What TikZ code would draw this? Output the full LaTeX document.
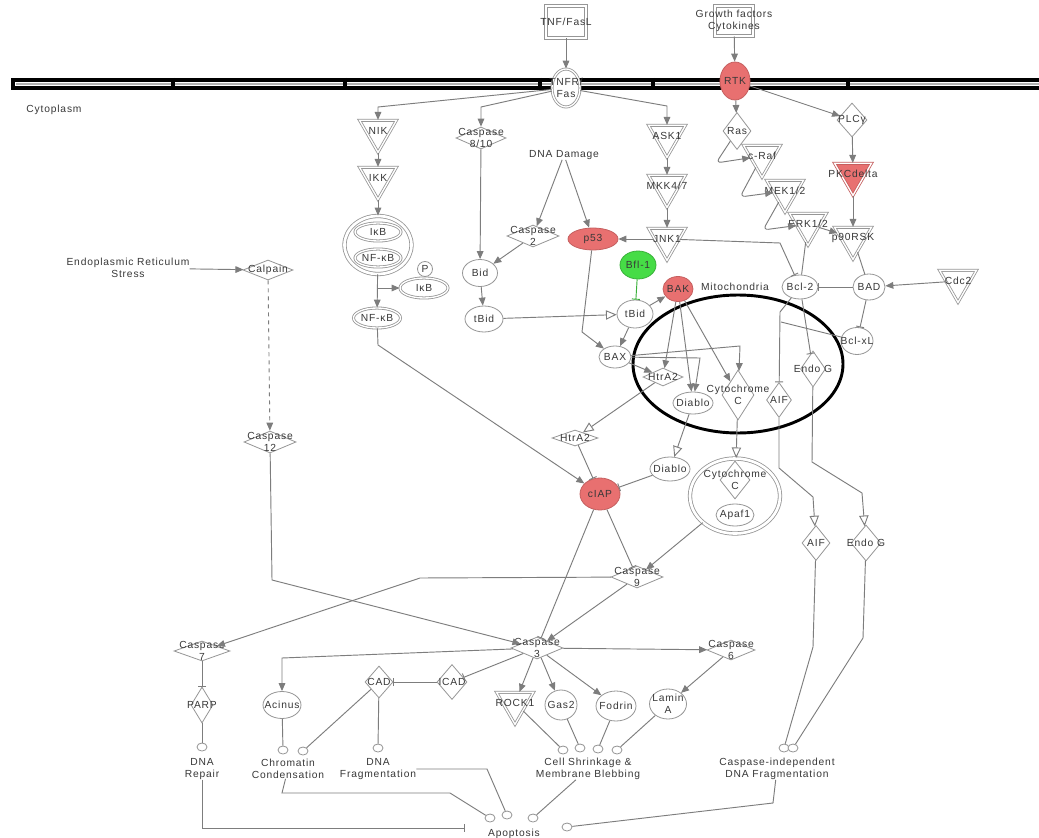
\documentclass[tikz,border=0pt]{standalone}
\usepackage{fontspec}
\setmainfont{Liberation Sans}[LetterSpace=8]
\usetikzlibrary{shapes.geometric,arrows.meta,calc}
\definecolor{ipared}{RGB}{232,112,112}
\definecolor{ipagrn}{RGB}{70,220,70}
\definecolor{edc}{RGB}{125,125,125}
\definecolor{ndc}{RGB}{150,150,150}
\begin{document}
\begin{tikzpicture}[x=0.75pt,y=-0.75pt,
  lbl/.style={font=\fontsize{7.7}{8.6}\selectfont, text=black!78, align=center, inner sep=0pt},
  tx/.style={label={[lbl]center:{#1}}},
  sz/.style 2 args={minimum width=#1*0.75pt, minimum height=#2*0.75pt},
  nd/.style={draw=ndc, fill=white, line width=0.6pt, inner sep=0pt},
  el/.style={nd, ellipse},
  dia/.style={nd, diamond},
  kin/.style={nd, regular polygon, regular polygon sides=3, shape border rotate=180, minimum size=32pt, double, double distance=1pt},
  bx/.style={nd, rectangle, double, double distance=1.2pt},
  port/.style={nd, ellipse, minimum width=7.5pt, minimum height=6pt},
  hot/.style={fill=ipared, draw=ipared!85!black},
  grn/.style={fill=ipagrn, draw=ipagrn!80!black},
  ed/.style={draw=edc, line width=0.7pt},
  ln/.style={ed},
  act/.style={ed, -{Triangle[length=6pt,width=5pt]}},
  opn/.style={ed, -{Triangle[open,length=8pt,width=7pt,fill=white]}},
  inh/.style={ed, -{Bar[width=6pt]}}
]
\useasboundingbox (0,0) rectangle (1039,838);
\fill[white] (0,0) rectangle (1039,838);
% membrane
\draw[line width=2.3pt] (13,80) rectangle (1060,88);
\draw[gray!60, line width=0.8pt] (16,84) -- (1060,84);
\foreach \xx in {173,345,540,653,848} \draw[line width=2.5pt] (\xx,78) -- (\xx,90);
\node[lbl] (cyto) at (54,110) {Cytoplasm};
% mitochondrion
\node[draw, ellipse, line width=2.2pt, minimum width=157.5pt, minimum height=103.5pt] (mitoel) at (738,364) {};
\node[lbl] (mitot) at (735,287) {Mitochondria};
% top
\node[bx, sz={40}{32}, tx={TNF/FasL}] (tnf) at (566,22) {};
\node[bx, sz={38}{30}, tx={Growth factors\\Cytokines}] (gf) at (734,21) {};
\node[el, double, double distance=1pt, sz={28}{38}, tx={TNFR/\\Fas}] (tnfr) at (566,88) {};
\node[el, hot, sz={30}{38}, tx=RTK] (rtk) at (735,81) {};
\node[kin, tx=NIK] (nik) at (378,131) {};
\node[kin, tx=IKK] (ikk) at (378,178) {};
\node[el, double, double distance=2pt, sz={67}{58}] (cplx) at (378,245) {};
\node[el, double, double distance=1pt, sz={46}{18}, tx={IκB}] (ikbin) at (378,232) {};
\node[el, double, double distance=1pt, sz={46}{18}, tx={NF-κB}] (nfkbin) at (378,258) {};
\node[el, sz={15}{15}, tx=P] (pP) at (425,269) {};
\node[el, double, double distance=1pt, sz={48}{20}, tx={IκB}] (ikbP) at (424,288) {};
\node[el, double, double distance=1pt, sz={47}{20}, tx={NF-κB}] (nfkb) at (377,318) {};
\node[dia, sz={50}{22}, tx={Caspase\\8/10}] (c810) at (481,138) {};
\node[lbl] (dnad) at (564,155) {DNA Damage};
\node[dia, sz={52}{22}, tx={Caspase\\2}] (c2) at (533,236) {};
\node[el, hot, sz={50}{22}, tx=p53] (p53) at (593,239) {};
\node[kin, tx=ASK1] (ask1) at (667,136) {};
\node[kin, tx={MKK4/7}] (mkk) at (667,186) {};
\node[kin, tx=JNK1] (jnk) at (667,239) {};
\node[dia, sz={28}{37}, tx=Ras] (ras) at (737,131) {};
\node[kin, tx={c-Raf}] (craf) at (762,156) {};
\node[kin, tx={MEK1/2}] (mek) at (785,191) {};
\node[kin, tx={ERK1/2}] (erk) at (808,224) {};
\node[dia, sz={30}{34}, tx={PLCγ}] (plc) at (852,120) {};
\node[kin, hot, tx={PKCdelta}] (pkc) at (853,174) {};
\node[kin, tx={p90RSK}] (rsk) at (853,238) {};
\node[el, sz={35}{27}, tx=Bid] (bid) at (480,273) {};
\node[el, sz={38}{26}, tx=tBid] (tbid) at (484,319) {};
\node[lbl] (ers) at (128,268) {Endoplasmic Reticulum\\Stress};
\node[dia, sz={50}{20}, tx=Calpain] (calp) at (268,270) {};
\node[dia, sz={52}{22}, tx={Caspase\\12}] (c12) at (270,442) {};
\node[el, grn, sz={36}{28}, tx={Bfl-1}] (bfl) at (638,265) {};
\node[el, hot, sz={30}{25}, tx=BAK] (bak) at (678,289) {};
\node[el, sz={36}{28}, tx=tBid] (tbid2) at (635,314) {};
\node[el, sz={32}{22}, tx=BAX] (bax) at (615,357) {};
\node[dia, sz={40}{18}, tx=HtrA2] (htrin) at (663,377) {};
\node[el, sz={40}{22}, tx=Diablo] (diabin) at (693,403) {};
\node[dia, sz={32}{50}, tx={Cytochrome\\C}] (cytin) at (738,395) {};
\node[dia, sz={25}{35}, tx=AIF] (aifin) at (779,400) {};
\node[dia, sz={25}{36}, tx={Endo G}] (endoin) at (813,369) {};
\node[el, sz={36}{24}, tx={Bcl-2}] (bcl2) at (800,287) {};
\node[el, sz={32}{26}, tx=BAD] (bad) at (869,287) {};
\node[kin, tx=Cdc2] (cdc2) at (958,281) {};
\node[el, sz={32}{27}, tx={Bcl-xL}] (bclxl) at (857,341) {};
\node[dia, sz={46}{16}, tx=HtrA2] (htrout) at (575,438) {};
\node[el, sz={40}{24}, tx=Diablo] (diabout) at (670,469) {};
\node[el, hot, sz={40}{32}, tx=cIAP] (ciap) at (600,494) {};
\node[el, double, double distance=2pt, sz={90}{75}] (apc) at (735,496) {};
\node[dia, sz={30}{38}, tx={Cytochrome\\C}] (cytc2) at (735,480) {};
\node[el, sz={38}{22}, tx=Apaf1] (apaf) at (735,515) {};
\node[dia, sz={28}{35}, tx=AIF] (aifout) at (816,543) {};
\node[dia, sz={30}{36}, tx={Endo G}] (endoout) at (866,543) {};
\node[dia, sz={52}{22}, tx={Caspase\\9}] (c9) at (637,577) {};
\node[dia, sz={52}{22}, tx={Caspase\\3}] (c3) at (537,648) {};
\node[dia, sz={48}{20}, tx={Caspase\\6}] (c6) at (731,650) {};
\node[dia, sz={56}{20}, tx={Caspase\\7}] (c7) at (202,651) {};
\node[dia, sz={22}{36}, tx=PARP] (parp) at (202,705) {};
\node[el, sz={38}{27}, tx=Acinus] (acin) at (282,705) {};
\node[dia, sz={28}{32}, tx=CAD] (cad) at (379,682) {};
\node[dia, sz={30}{35}, tx=ICAD] (icad) at (452,682) {};
\node[kin, tx=ROCK1] (rock) at (515,703) {};
\node[el, sz={32}{30}, tx=Gas2] (gas2) at (561,705) {};
\node[el, sz={40}{30}, tx=Fodrin] (fodr) at (616,706) {};
\node[el, sz={37}{30}, tx={Lamin\\A}] (lamin) at (668,704) {};
% ports
\node[port] (pRep) at (202,747) {};
\node[port] (pCh1) at (283,750) {};
\node[port] (pCh2) at (303,751) {};
\node[port] (pFr) at (378,748) {};
\node[port] (pCs1) at (563,750) {};
\node[port] (pCs2) at (580,748) {};
\node[port] (pCs3) at (598,749) {};
\node[port] (pCs4) at (617,750) {};
\node[port] (pCi1) at (784,748) {};
\node[port] (pCi2) at (793,748) {};
\node[port] (ap1) at (490,818) {};
\node[port] (ap2) at (507,815) {};
\node[port] (ap3) at (533,818) {};
\node[port] (ap4) at (567,827) {};
% function texts
\node[lbl] (tRep) at (202,769) {DNA\\Repair};
\node[lbl] (tChr) at (288,769) {Chromatin\\Condensation};
\node[lbl] (tFrag) at (378,769) {DNA\\Fragmentation};
\node[lbl] (tShr) at (588,769) {Cell Shrinkage \&\\Membrane Blebbing};
\node[lbl] (tCi) at (777,769) {Caspase-independent\\DNA Fragmentation};
\node[lbl] (tApo) at (514,834) {Apoptosis};
% edges
\draw[act] (tnf) -- (tnfr);
\draw[act] (gf) -- (rtk);
\draw[act] (tnfr) -- (378,107) -- (nik);
\draw[act] (tnfr) -- (481,107) -- (c810);
\draw[act] (tnfr) -- (667,106) -- (ask1);
\draw[act] (nik) -- (ikk);
\draw[act] (ikk) -- (cplx);
\draw[act] (cplx) -- (nfkb);
\coordinate (br1) at (378,288);
\draw[act] (br1) -- (ikbP);
\draw[act] (nfkb) -- (378,345) -- (ciap);
\draw[act] (c810) -- (bid);
\draw[act] (c2) -- (bid);
\draw[act] (bid) -- (tbid);
\draw[act] (dnad) -- (c2);
\draw[act] (dnad) -- (p53);
\draw[act] (ask1) -- (mkk);
\draw[act] (mkk) -- (jnk);
\draw[act] (jnk) -- (p53);
\draw[inh] (jnk) -- (780,243) -- (bcl2);
\draw[act] (rtk) -- (ras);
\draw[act] (rtk) -- (plc);
\draw[act, rounded corners=4pt] (ras) -- (716,163) -- (craf);
\draw[act, rounded corners=4pt] (craf) -- (740,197) -- (mek);
\draw[act, rounded corners=4pt] (mek) -- (763,230) -- (erk);
\draw[act] (plc) -- (pkc);
\draw[act] (pkc) -- (rsk);
\draw[act] (erk) -- (rsk);
\draw[ln] (erk) -- (bcl2);
\draw[ln] (rsk) -- (bad);
\draw[act] (cdc2) -- (bad);
\draw[inh] (bad) -- (bcl2);
\draw[inh] (bad) -- (bclxl);
\draw[inh] (bcl2) -- (780,312) -- (aifin);
\draw[inh] (bcl2) -- (endoin);
\coordinate (j1) at (781,322);
\draw[ln] (bclxl) -- (j1);
\draw[act] (bak) -- (htrin);
\draw[act] (bak) -- (diabin);
\draw[act] (bak) -- (cytin);
\draw[act] (bax) -- (740,346) -- (cytin);
\draw[act] (bax) -- (700,358) -- (diabin);
\draw[act] (bax) -- (htrin);
\draw[act] (tbid2) -- (bak);
\draw[act] (tbid2) -- (bax);
\draw[act] (p53) -- (582,332) -- (bax);
\draw[inh, draw=ipagrn!80!black] (bfl) -- (tbid2);
\draw[opn] (tbid) -- (tbid2);
\draw[opn] (htrin) -- (htrout);
\draw[opn] (diabin) -- (diabout);
\draw[opn] (cytin) -- (apc);
\draw[opn] (aifin) -- (779,468) -- (813,497) -- (aifout);
\draw[opn] (endoin) -- (812,462) -- (862,493) -- (endoout);
\draw[inh] (htrout) -- (ciap);
\draw[inh] (diabout) -- (ciap);
\draw[inh] (ciap) -- (c9);
\draw[inh] (ciap) -- (c3);
\draw[act] (apc) -- (c9);
\draw[act] (c9) -- (c3);
\draw[act] (c9) -- (420,578) -- (c7);
\draw[act, dashed] (calp) -- (c12);
\draw[act] (ers) -- (calp);
\draw[act] (c12) -- (272,580) -- (c3);
\draw[act] (c3) -- (282,658) -- (acin);
\draw[inh] (c3) -- (icad);
\draw[inh] (icad) -- (cad);
\draw[act] (c3) -- (rock);
\draw[act] (c3) -- (gas2);
\draw[act] (c3) -- (fodr);
\draw[act] (c3) -- (c6);
\draw[act] (c6) -- (lamin);
\draw[inh] (c7) -- (parp);
\draw[ln] (parp) -- (pRep);
\draw[ln] (acin) -- (pCh1);
\draw[ln] (cad) -- (pCh2);
\draw[ln] (cad) -- (pFr);
\draw[ln] (rock) -- (pCs1);
\draw[ln] (gas2) -- (pCs2);
\draw[ln] (fodr) -- (pCs3);
\draw[ln] (lamin) -- (pCs4);
\draw[ln] (aifout) -- (813,647) -- (pCi1);
\draw[ln] (endoout) -- (863,638) -- (pCi2);
\coordinate (apbar) at (465,828);
\draw[inh] (tRep) -- (202,828) -- (apbar);
\draw[ln] (tChr) -- (282,793) -- (450,793) -- (ap1);
\draw[ln] (tFrag) -- (487,769) -- (ap2);
\draw[ln] (tShr) -- (ap3);
\draw[ln] (tCi) -- (773,803) -- (ap4);
\end{tikzpicture}
\end{document}
